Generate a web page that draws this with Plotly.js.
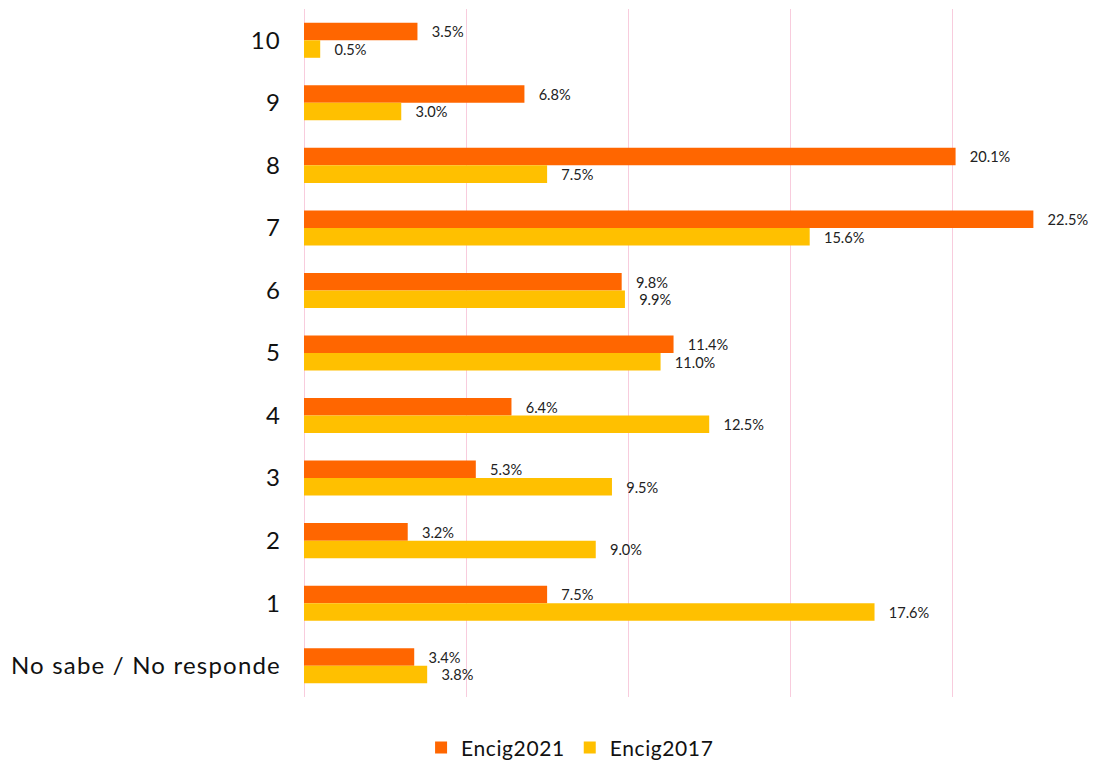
<!DOCTYPE html>
<html>
<head>
<meta charset="utf-8">
<script src="https://cdn.plot.ly/plotly-3.0.1.min.js"></script>
<style>html,body{margin:0;padding:0;background:#fff;}#chart{width:1102px;height:763px;}
.ytick text{letter-spacing:1.2px;}
.legendtext{letter-spacing:0.6px;}
</style>
</head>
<body>
<div id="chart"></div>
<script>
const categories = ['10','9','8','7','6','5','4','3','2','1','No sabe / No responde'];
const encig2021 = [3.5, 6.8, 20.1, 22.5, 9.8, 11.4, 6.4, 5.3, 3.2, 7.5, 3.4];
const encig2017 = [0.5, 3.0, 7.5, 15.6, 9.9, 11.0, 12.5, 9.5, 9.0, 17.6, 3.8];
const seriesNames = ['Encig2021', 'Encig2017'];

const fmt = v => '   ' + v.toFixed(1) + '%';
const textFont = {family: 'Lato, sans-serif', size: 15, color: '#222'};

const traces = [
  {type:'bar', orientation:'h', name: seriesNames[0], y: categories, x: encig2021,
   marker:{color:'#FF6600'}, text: encig2021.map(fmt), textposition:'outside',
   cliponaxis:false, textfont:textFont, hoverinfo:'x+y'},
  {type:'bar', orientation:'h', name: seriesNames[1], y: categories, x: encig2017,
   marker:{color:'#FFC000'}, text: encig2017.map(fmt), textposition:'outside',
   cliponaxis:false, textfont:textFont, hoverinfo:'x+y'}
];

const layout = {
  width:1102, height:763,
  margin:{l:304, r:20, t:9, b:66},
  paper_bgcolor:'#fff', plot_bgcolor:'#fff',
  barmode:'group', bargap:0.44, bargroupgap:0,
  font:{family:'Lato, sans-serif', color:'#111'},
  xaxis:{range:[0,24], dtick:5, showticklabels:false, showgrid:true,
         gridcolor:'#F8CCDD', gridwidth:1, zeroline:true, zerolinecolor:'#F8CCDD',
         showline:false, ticks:'', automargin:false},
  yaxis:{type:'category', autorange:'reversed', showgrid:false, zeroline:false,
         showline:false, ticks:'', ticklabelstandoff:22, automargin:false,
         tickfont:{family:'Lato, sans-serif', size:24, color:'#111'}},
  legend:{orientation:'h', x:0.342, xanchor:'center', yref:'container', y:0.02, yanchor:'middle',
          font:{family:'Lato, sans-serif', size:21, color:'#111'}},
  showlegend:true
};

Plotly.newPlot('chart', traces, layout, {displayModeBar:false, staticPlot:true});
</script>
</body>
</html>
